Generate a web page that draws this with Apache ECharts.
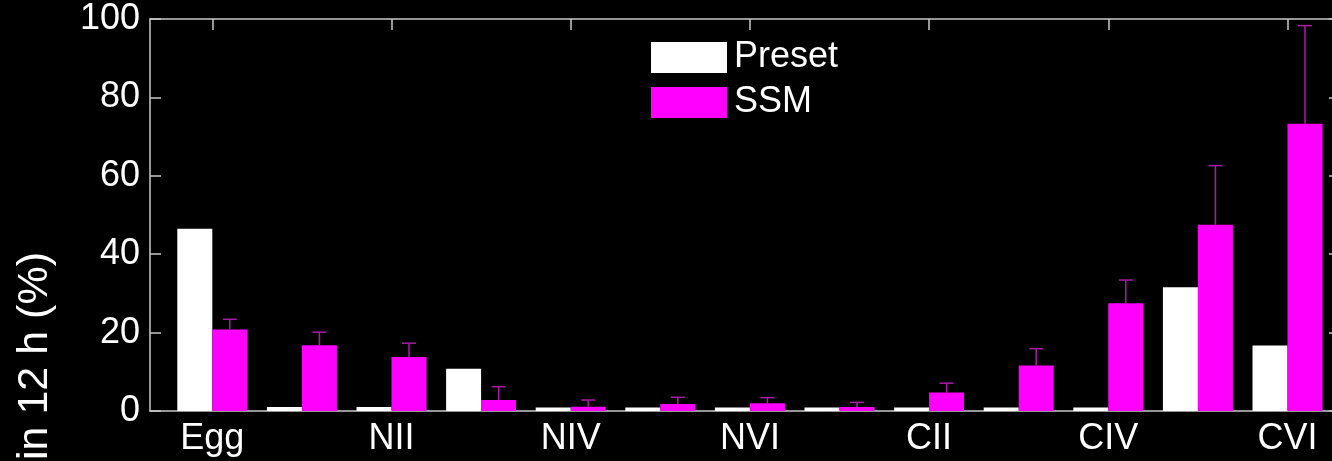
<!DOCTYPE html>
<html><head><meta charset="utf-8">
<script src="https://cdn.jsdelivr.net/npm/echarts@6/dist/echarts.min.js"></script>
<style>html,body{margin:0;padding:0;background:#000;}#c{width:1332px;height:461px;}</style>
</head><body><div id="c"></div>
<script>
const categories = ['Egg','NI','NII','NIII','NIV','NV','NVI','CI','CII','CIII','CIV','CV','CVI'];
const presetValues = [46.5, 1.0, 1.0, 10.8, 0.9, 0.9, 0.9, 0.9, 0.9, 0.9, 0.9, 31.6, 16.7];
const ssmValues = [20.8, 16.8, 13.8, 2.8, 1.1, 1.8, 2.0, 1.0, 4.7, 11.6, 27.5, 47.5, 73.3];
const ssmErrors = [2.6, 3.3, 3.5, 3.4, 1.7, 1.7, 1.4, 1.2, 2.4, 4.3, 5.9, 15.1, 25.0];
const yMin = 0, yMax = 100, yStep = 20;
const seriesNames = ['Preset', 'SSM'];
const yName = 'in 12 h (%)';

const FONT = '"Liberation Sans", Arial, Helvetica, sans-serif';
const AX = {color: '#c8c8c8', width: 1.5};
const BAR_W = 35;

const chart = echarts.init(document.getElementById('c'), null, {renderer: 'canvas'});
const errData = categories.map((c, i) => [i, ssmValues[i], ssmValues[i] + ssmErrors[i]]);

chart.setOption({
  animation: false,
  backgroundColor: '#000',
  grid: [
    {left: 150, width: 1190, top: 19, height: 392, outerBoundsMode: 'none', containLabel: false},
    {left: 167.5, width: 1164.8, top: 19, height: 392, outerBoundsMode: 'none', containLabel: false}
  ],
  legend: {
    data: seriesNames, orient: 'vertical', left: 646, top: 34.5, padding: 5,
    itemWidth: 76, itemHeight: 31, itemGap: 9, icon: 'rect',
    textStyle: {color: '#fff', fontSize: 36, fontFamily: FONT, padding: [0, 0, 0, 2]}
  },
  graphic: [{
    type: 'text', rotation: Math.PI / 2, x: 35, y: 356,
    style: {text: yName, fill: '#fff', fontSize: 43, fontFamily: FONT, align: 'center', verticalAlign: 'middle'}
  }],
  xAxis: [
    {gridIndex: 0, type: 'value', min: 0, max: 1, position: 'bottom',
      axisLine: {show: true, onZero: false, lineStyle: AX}, axisTick: {show: false}, axisLabel: {show: false}, splitLine: {show: false}},
    {gridIndex: 0, type: 'value', min: 0, max: 1, position: 'top',
      axisLine: {show: true, onZero: false, lineStyle: AX}, axisTick: {show: false}, axisLabel: {show: false}, splitLine: {show: false}},
    {gridIndex: 1, type: 'category', data: categories, position: 'bottom',
      axisLine: {show: false, onZero: false}, axisTick: {show: false},
      axisLabel: {interval: 1, color: '#fff', fontSize: 36, fontFamily: FONT, margin: 10}},
    {gridIndex: 1, type: 'category', data: categories, position: 'top',
      axisLine: {show: false, onZero: false},
      axisTick: {show: true, interval: 1, alignWithLabel: true, inside: true, length: 11, lineStyle: AX},
      axisLabel: {show: false}}
  ],
  yAxis: [
    {gridIndex: 0, type: 'value', min: yMin, max: yMax, interval: yStep, position: 'left',
      axisLine: {show: true, onZero: false, lineStyle: AX},
      axisTick: {show: true, inside: true, length: 11, lineStyle: AX},
      axisLabel: {color: '#fff', fontSize: 36, fontFamily: FONT, margin: 10},
      splitLine: {show: false}},
    {gridIndex: 0, type: 'value', min: yMin, max: yMax, interval: yStep, position: 'right',
      axisLine: {show: true, onZero: false, lineStyle: AX},
      axisTick: {show: true, inside: true, length: 11, lineStyle: AX},
      axisLabel: {show: false}, splitLine: {show: false}},
    {gridIndex: 1, type: 'value', min: yMin, max: yMax, show: false}
  ],
  series: [
    {name: seriesNames[0], type: 'bar', xAxisIndex: 2, yAxisIndex: 2, data: presetValues,
      barWidth: BAR_W, barGap: '0%', itemStyle: {color: '#ffffff'}, z: 3},
    {name: seriesNames[1], type: 'bar', xAxisIndex: 2, yAxisIndex: 2, data: ssmValues,
      barWidth: BAR_W, barGap: '0%', itemStyle: {color: '#ff00ff'}, z: 3},
    {name: 'err', type: 'custom', xAxisIndex: 2, yAxisIndex: 2, data: errData, z: 4,
      renderItem: function (params, api) {
        const base = api.coord([api.value(0), api.value(1)]);
        const top = api.coord([api.value(0), api.value(2)]);
        const x = base[0] + BAR_W / 2;
        const st = {stroke: '#a81ca8', lineWidth: 1.5};
        return {type: 'group', children: [
          {type: 'line', shape: {x1: x, y1: base[1], x2: x, y2: top[1]}, style: st},
          {type: 'line', shape: {x1: x - 7, y1: top[1], x2: x + 7, y2: top[1]}, style: st}
        ]};
      }}
  ]
});
</script></body></html>
